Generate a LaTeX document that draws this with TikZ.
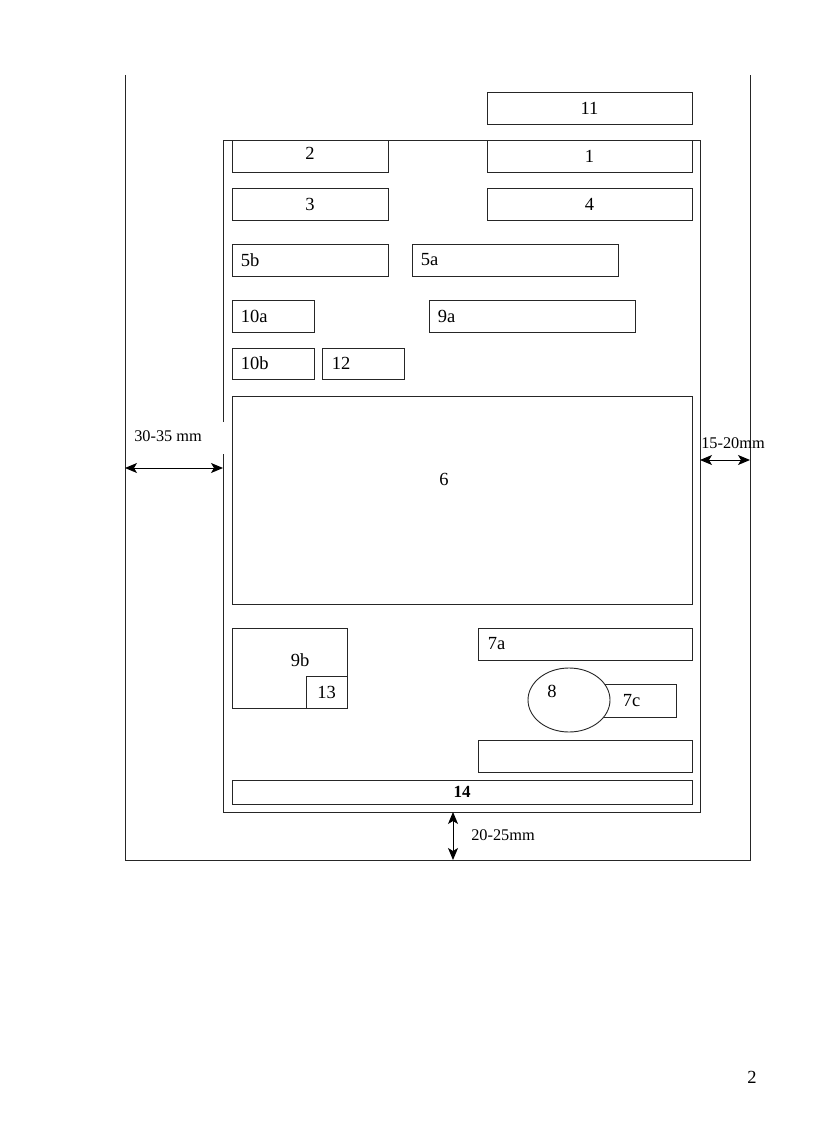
\documentclass[tikz,border=0pt]{standalone}
\usepackage{fontspec}
\setmainfont{Liberation Serif}
\usetikzlibrary{arrows.meta,shapes.geometric}
\begin{document}
\begin{tikzpicture}[x=1pt,y=-1pt,
  every node/.style={font=\fontsize{18.5}{22}\selectfont},
  frame/.style={line width=0.9pt,draw=black!85},
  box/.style={draw=black!85,line width=0.9pt,rectangle,inner sep=0pt,fill=white},
  dim/.style={line width=1pt,{Stealth[length=12pt,width=10pt,inset=3pt]}-{Stealth[length=12pt,width=10pt,inset=3pt]}},
  dimtext/.style={inner sep=0pt,font=\fontsize{16.3}{19}\selectfont}]
\useasboundingbox (0,0) rectangle (816,1123);
% outer frame
\draw[frame] (125,75) -- (125,860) -- (750,860) -- (750,75);
% inner frame
\draw[frame] (223,422) -- (223,140) -- (700,140) -- (700,812) -- (223,812) -- (223,454);
% boxes
\newcommand{\bxl}[7]{\node[box,minimum width=#3-#1,minimum height=#4-#2,label={[anchor=west,inner sep=0pt,xshift=#7]west:#6}] (#5) at ({(#1+#3)/2},{(#2+#4)/2}) {};}
\node[box,minimum width=205,minimum height=32] (b11) at (589.5,108) {11};
\node[box,minimum width=156,minimum height=32,label={[inner sep=0pt,yshift=3pt]center:2}] (b2) at (310,156) {};
\node[box,minimum width=205,minimum height=32] (b1) at (589.5,156) {1};
\node[box,minimum width=156,minimum height=32] (b3) at (310,204) {3};
\node[box,minimum width=205,minimum height=32] (b4) at (589.5,204) {4};
\bxl{232}{244}{388}{276}{b5b}{5b}{9pt}
\bxl{412}{244}{618}{276}{b5a}{5a}{9pt}
\bxl{232}{300}{314}{332}{b10a}{10a}{9pt}
\bxl{429}{300}{635}{332}{b9a}{9a}{9pt}
\bxl{232}{348}{314}{379}{b10b}{10b}{9pt}
\bxl{322}{348}{404}{379}{b12}{12}{10pt}
\node[box,minimum width=460,minimum height=208,label={[inner sep=0pt,shift={(-18,-21)}]center:6}] (b6) at (462,500) {};
\node[box,minimum width=115,minimum height=80,label={[inner sep=0pt,shift={(10.5,-8)}]center:9b}] (b9b) at (289.5,668) {};
\node[box,minimum width=41,minimum height=32] (b13) at (326.5,692) {13};
\bxl{478}{628}{692}{660}{b7a}{7a}{10pt}
\bxl{603}{684}{676}{717}{b7c}{7c}{20pt}
\node[draw=black!85,line width=0.9pt,ellipse,fill=white,minimum width=82,minimum height=64,inner sep=0pt,label={[inner sep=0pt,shift={(-17,-9)}]center:8}] (b8) at (569,700) {};
\node[box,minimum width=214,minimum height=32] (b7b) at (585,756) {};
\node[box,minimum width=460,minimum height=24,font=\fontsize{17}{20}\selectfont\bfseries] (b14) at (462,792) {14};
% dimension arrows
\coordinate (l1) at (125,468); \coordinate (l2) at (223,468);
\draw[dim] (l1) -- (l2);
\node[dimtext] (t1) at (168,436) {30-35 mm};
\coordinate (r1) at (700,460); \coordinate (r2) at (750,460);
\draw[dim] (r1) -- (r2);
\node[dimtext] (t2) at (733,443) {15-20mm};
\coordinate (d1) at (453,812); \coordinate (d2) at (453,860);
\draw[dim] (d1) -- (d2);
\node[dimtext] (t3) at (503,835) {20-25mm};
% page number
\node (pg) at (752,1077) {2};
\end{tikzpicture}
\end{document}
